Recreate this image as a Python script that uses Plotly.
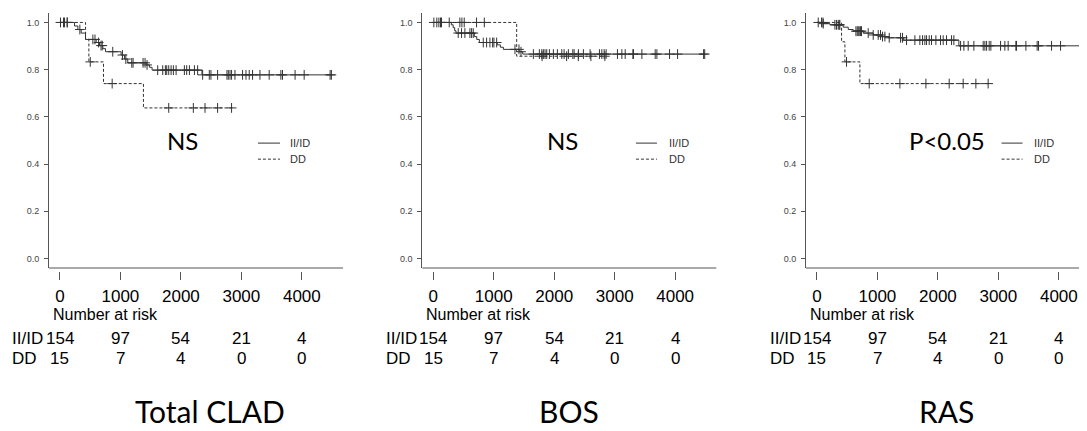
import numpy as np
import plotly.graph_objects as go

# ---------------- data ----------------
panel_titles = ["Total CLAD", "BOS", "RAS"]
stat_labels = ["NS", "NS", "P<0.05"]
group_names = ["II/ID", "DD"]
risk_times = [0, 1000, 2000, 3000, 4000]
risk_iiid = [154, 97, 54, 21, 4]
risk_dd = [15, 7, 4, 0, 0]
y_tick_vals = [0.0, 0.2, 0.4, 0.6, 0.8, 1.0]

# Total CLAD
clad_iiid_t = [0, 242, 297, 352, 424, 600, 655, 710, 754, 1012, 1067, 1122, 1425, 1480, 1524, 2349, 4490]
clad_iiid_s = [1.0, 0.985, 0.97, 0.955, 0.928, 0.915, 0.902, 0.889, 0.876, 0.862, 0.845, 0.829, 0.82, 0.81, 0.798, 0.778, 0.778]
clad_iiid_c = [10, 77, 121, 330, 545, 580, 640, 680, 700, 874, 1034, 1090, 1188, 1210, 1375, 1408, 1441,
               1617, 1700, 1744, 1766, 1799, 1838, 1876, 1921, 2058, 2096, 2141, 2224, 2277,
               2360, 2470, 2497, 2607, 2762, 2784, 2812, 2838, 2894, 3020, 3076, 3130, 3185,
               3307, 3460, 3653, 3680, 3888, 4038, 4467, 4488]
clad_dd_t = [0, 424, 479, 721, 1381, 2850]
clad_dd_s = [1.0, 0.929, 0.833, 0.741, 0.638, 0.638]
clad_dd_c = [60, 121, 502, 864, 1799, 2206, 2399, 2607, 2838]

# BOS
bos_iiid_t = [0, 300, 330, 355, 377, 680, 720, 763, 1060, 1110, 1160, 1420, 1480, 4490]
bos_iiid_s = [1.0, 0.99, 0.978, 0.965, 0.955, 0.94, 0.928, 0.915, 0.905, 0.895, 0.886, 0.876, 0.866, 0.866]
bos_iiid_c = [11, 60, 94, 121, 138, 265, 414, 469, 524, 607, 635, 662, 828, 883, 938, 982, 1004, 1049,
              1352, 1418, 1451, 1656, 1755, 1795, 1821, 1849, 1877, 1921, 1987, 2053, 2126, 2164,
              2235, 2308, 2330, 2401, 2483, 2594, 2748, 2788, 2826, 2859, 3046, 3119, 3174, 3301,
              3311, 3450, 3670, 3698, 3907, 4040, 4470, 4488]
bos_dd_t = [0, 1380, 2840]
bos_dd_s = [1.0, 0.857, 0.857]
bos_dd_c = [441, 475, 513, 717, 845, 1800, 2206, 2399, 2607, 2838]

# RAS
ras_iiid_t = [0, 105, 215, 435, 518, 600, 766, 931, 1069, 1179, 1427, 2347, 4490]
ras_iiid_s = [1.0, 0.995, 0.99, 0.98, 0.97, 0.963, 0.955, 0.947, 0.94, 0.935, 0.925, 0.901, 0.901]
ras_iiid_c = [22, 77, 105, 298, 325, 353, 369, 380, 645, 667, 683, 700, 722, 738,
              848, 931, 1014, 1052, 1085, 1124, 1196, 1383, 1416, 1482, 1620, 1702, 1747,
              1785, 1813, 1857, 1895, 1967, 2044, 2088, 2143, 2226, 2264,
              2375, 2430, 2501, 2595, 2749, 2777, 2805, 2848, 2876, 3036, 3107, 3162,
              3289, 3300, 3455, 3641, 3664, 3879, 4028, 4458]
ras_dd_t = [0, 408, 463, 711, 2848]
ras_dd_s = [1.0, 0.918, 0.833, 0.741, 0.741]
ras_dd_c = [100, 490, 865, 1372, 1802, 2187, 2418, 2628, 2831]

curves = [
    (clad_iiid_t, clad_iiid_s, clad_iiid_c, clad_dd_t, clad_dd_s, clad_dd_c),
    (bos_iiid_t, bos_iiid_s, bos_iiid_c, bos_dd_t, bos_dd_s, bos_dd_c),
    (ras_iiid_t, ras_iiid_s, ras_iiid_c, ras_dd_t, ras_dd_s, ras_dd_c),
]


def surv_at(times, surv, query):
    idx = np.searchsorted(np.asarray(times), np.asarray(query), side="right") - 1
    return list(np.asarray(surv)[idx])


# ---------------- layout geometry ----------------
# page is 1087x431; the html body has an 8px margin, so the figure is 1079x423
PAGE_W, PAGE_H, OFF = 1087, 431, 8
W, H = PAGE_W - OFF, PAGE_H - OFF


def px(x):
    return (x - OFF) / W


def py(y):
    return (PAGE_H - y) / H


x_domains = [[px(49), px(343)], [px(422.3), px(716.3)], [px(806), 1.0]]
x_ranges = [[-180, 4680], [-180, 4680], [-180, 4465]]
y_domain = [py(268), py(13)]
y_range = [-0.04, 1.04]
tick_pos = py(271)
title_x = [px(210), px(569), px(946)]
row_label_x = [px(9.5), px(383.5), px(767.5)]
stat_x = [2035, 2137, 2144]
legend_x = [(3274, 3638, 3770), (3352, 3699, 3860), (3053, 3400, 3548)]

LINE_COL = "#333333"
AX_COL = "#555555"
ARIAL = "Liberation Sans, Arial, sans-serif"
CAL = "Lato, Carlito, Calibri, sans-serif"

fig = go.Figure()
annotations = []
shapes = []

for k in range(3):
    sfx = "" if k == 0 else str(k + 1)
    xa, ya = "x" + sfx, "y" + sfx
    it, isv, ic, dt, dsv, dc = curves[k]
    fig.add_trace(go.Scatter(x=it, y=isv, mode="lines", line=dict(shape="hv", color=LINE_COL, width=1),
                             xaxis=xa, yaxis=ya, showlegend=False, hoverinfo="skip"))
    fig.add_trace(go.Scatter(x=dt, y=dsv, mode="lines",
                             line=dict(shape="hv", color=LINE_COL, width=1, dash="3px,2px"),
                             xaxis=xa, yaxis=ya, showlegend=False, hoverinfo="skip"))
    fig.add_trace(go.Scatter(x=ic, y=surv_at(it, isv, ic), mode="markers",
                             marker=dict(symbol="cross-thin", size=7, line=dict(color=LINE_COL, width=1)),
                             xaxis=xa, yaxis=ya, showlegend=False, hoverinfo="skip"))
    fig.add_trace(go.Scatter(x=dc, y=surv_at(dt, dsv, dc), mode="markers",
                             marker=dict(symbol="cross-thin", size=7, line=dict(color=LINE_COL, width=1)),
                             xaxis=xa, yaxis=ya, showlegend=False, hoverinfo="skip"))

    fig.update_layout(**{
        "xaxis" + sfx: dict(domain=x_domains[k], range=x_ranges[k], anchor="free", position=tick_pos,
                            automargin=False,
                            showline=False, showgrid=False, zeroline=False,
                            ticks="outside", ticklen=8, tickwidth=1, tickcolor=AX_COL,
                            tickvals=risk_times, ticktext=[str(v) for v in risk_times],
                            tickfont=dict(family=ARIAL, size=17, color="black"), ticklabelstandoff=2),
        "yaxis" + sfx: dict(domain=y_domain, range=y_range, anchor=xa, automargin=False,
                            showline=True, linecolor=AX_COL, linewidth=1, showgrid=False, zeroline=False,
                            ticks="outside", ticklen=4, tickwidth=1, tickcolor=AX_COL,
                            tickvals=y_tick_vals, ticktext=["%.1f" % v for v in y_tick_vals],
                            tickfont=dict(family=ARIAL, size=9, color="#444444"), ticklabelstandoff=3),
    })

    # bottom box line
    shapes.append(dict(type="line", xref=xa + " domain", yref=ya + " domain", x0=0, x1=1, y0=0, y1=0,
                       line=dict(color=AX_COL, width=1)))

    # legend
    lx0, lx1, ltx = legend_x[k]
    shapes.append(dict(type="line", xref=xa, yref=ya, x0=lx0, x1=lx1, y0=0.489, y1=0.489,
                       line=dict(color=LINE_COL, width=1)))
    shapes.append(dict(type="line", xref=xa, yref=ya, x0=lx0, x1=lx1, y0=0.421, y1=0.421,
                       line=dict(color=LINE_COL, width=1, dash="3px,2px")))
    for gname, gy in zip(group_names, [0.489, 0.421]):
        annotations.append(dict(text=gname, xref=xa, yref=ya, x=ltx, y=gy, xanchor="left", yanchor="middle",
                                showarrow=False, font=dict(family=ARIAL, size=11, color="#333333")))

    # statistic label
    annotations.append(dict(text=stat_labels[k], xref=xa, yref=ya, x=stat_x[k], y=0.502,
                            xanchor="center", yanchor="middle", showarrow=False,
                            font=dict(family=CAL, size=24, color="black")))

    # number at risk
    annotations.append(dict(text="Number at risk", xref=xa, yref="paper", x=-150, y=py(314),
                            xanchor="left", yanchor="middle", showarrow=False,
                            font=dict(family=ARIAL, size=16, color="black")))
    for gname, vals, ry in zip(group_names, [risk_iiid, risk_dd], [338, 358]):
        annotations.append(dict(text=gname, xref="paper", yref="paper", x=row_label_x[k], y=py(ry),
                                xanchor="left", yanchor="middle", showarrow=False,
                                font=dict(family=ARIAL, size=17, color="black")))
        for t, v in zip(risk_times, vals):
            annotations.append(dict(text=str(v), xref=xa, yref="paper", x=t, y=py(ry),
                                    xanchor="center", yanchor="middle", showarrow=False,
                                    font=dict(family=ARIAL, size=17, color="black")))

    # panel title
    annotations.append(dict(text=panel_titles[k], xref="paper", yref="paper", x=title_x[k], y=py(411),
                            xanchor="center", yanchor="middle", showarrow=False, borderpad=0,
                            font=dict(family=CAL, size=30, color="black")))

fig.update_layout(width=W, height=H, margin=dict(l=0, r=0, t=0, b=0, autoexpand=False),
                  plot_bgcolor="white", paper_bgcolor="white",
                  annotations=annotations, shapes=shapes, showlegend=False)

fig.write_html("out.html")
